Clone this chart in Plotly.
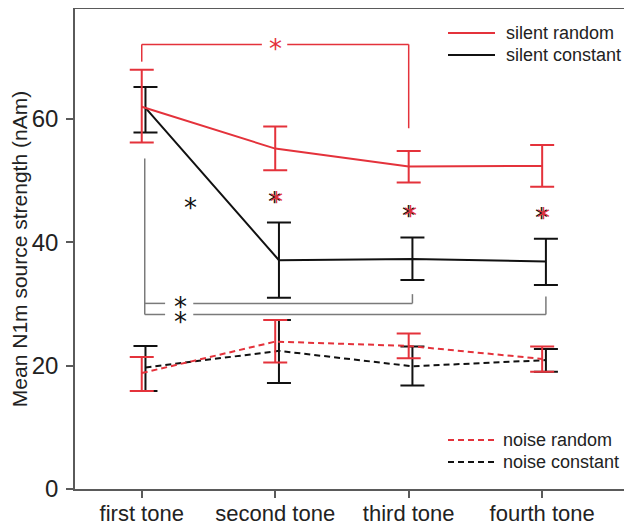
import plotly.graph_objects as go

# ---------------- data ----------------
categories = ["first tone", "second tone", "third tone", "fourth tone"]
tone_index = [1, 2, 3, 4]
y_tick_values = [0, 20, 40, 60]

silent_random_mean = [62.0, 55.2, 52.3, 52.4]
silent_random_upper = [68.0, 58.8, 54.8, 55.8]
silent_random_lower = [56.2, 51.7, 49.7, 49.0]

silent_constant_mean = [61.8, 37.1, 37.3, 36.9]
silent_constant_upper = [65.2, 43.2, 40.8, 40.6]
silent_constant_lower = [57.8, 31.0, 33.9, 33.1]

noise_random_mean = [18.8, 23.9, 23.2, 21.1]
noise_random_upper = [21.4, 27.4, 25.2, 23.1]
noise_random_lower = [15.9, 20.5, 21.2, 19.0]

noise_constant_mean = [19.7, 22.4, 19.9, 20.9]
noise_constant_upper = [23.2, 27.4, 23.1, 22.7]
noise_constant_lower = [15.9, 17.2, 16.8, 19.0]

# ---------------- style ----------------
RED = "#e4323b"
BLACK = "#111111"
GRAY = "#7a7a7a"
AXIS = "#5a5a5a"
FONT = "Liberation Sans, Arial, sans-serif"
STAR_FONT = "DejaVu Sans, sans-serif"
BLACK_OFFSET = 0.028  # black series drawn slightly right of red ones

# the page body has an 8px margin, so the figure is 8px smaller than the window
BODY = 8
W, H = 632 - BODY, 526 - BODY
ML, MR, MT, MB = 75 - BODY, 0, 9 - BODY, 37
PLOT_L, PLOT_T = 75, 9
PLOT_W, PLOT_H = 557, 480


def series(mean, upper, lower, color, dash, offset):
    return go.Scatter(
        x=[t + offset for t in tone_index],
        y=mean,
        mode="lines",
        line=dict(color=color, width=2, dash=dash),
        error_y=dict(
            type="data",
            symmetric=False,
            array=[u - m for u, m in zip(upper, mean)],
            arrayminus=[m - l for m, l in zip(mean, lower)],
            color=color,
            thickness=2,
            width=12,
        ),
        showlegend=False,
        hoverinfo="skip",
    )


fig = go.Figure()
fig.add_trace(series(noise_constant_mean, noise_constant_upper, noise_constant_lower, BLACK, "6px,4px", BLACK_OFFSET))
fig.add_trace(series(noise_random_mean, noise_random_upper, noise_random_lower, RED, "6px,4px", 0))
fig.add_trace(series(silent_constant_mean, silent_constant_upper, silent_constant_lower, BLACK, "solid", BLACK_OFFSET))
fig.add_trace(series(silent_random_mean, silent_random_upper, silent_random_lower, RED, "solid", 0))

shapes = []


def seg(x0, y0, x1, y1, color, width=1.5):
    shapes.append(dict(type="line", xref="x", yref="y", x0=x0, y0=y0, x1=x1, y1=y1,
                       line=dict(color=color, width=width)))


# red significance bracket (first vs third, silent random)
seg(1, 69.3, 1, 72.1, RED)
seg(1, 72.1, 1.90, 72.1, RED)
seg(2.09, 72.1, 3, 72.1, RED)
seg(3, 72.1, 3, 58.5, RED)

# gray brackets (first vs third / fourth, silent constant)
gx = 1 + BLACK_OFFSET * 0.8
seg(gx, 53.6, gx, 28.3, GRAY)
seg(gx, 30.1, 1.175, 30.1, GRAY)
seg(1.386, 30.1, 3 + BLACK_OFFSET, 30.1, GRAY)
seg(3 + BLACK_OFFSET, 30.1, 3 + BLACK_OFFSET, 31.6, GRAY)
seg(gx, 28.3, 1.175, 28.3, GRAY)
seg(1.386, 28.3, 4 + BLACK_OFFSET, 28.3, GRAY)
seg(4 + BLACK_OFFSET, 28.3, 4 + BLACK_OFFSET, 31.2, GRAY)


def px_x(p):
    return (p - PLOT_L) / PLOT_W


def px_y(p):
    return (PLOT_T + PLOT_H - p) / PLOT_H


# legends (drawn manually)
def legend_line(x0, x1, y, color, dash):
    shapes.append(dict(type="line", xref="paper", yref="paper",
                       x0=px_x(x0), x1=px_x(x1), y0=px_y(y), y1=px_y(y),
                       line=dict(color=color, width=2, dash=dash)))


legend_line(448, 495, 33, RED, "solid")
legend_line(448, 495, 55, BLACK, "solid")
legend_line(448, 497, 440, RED, "6px,4px")
legend_line(448, 497, 462, BLACK, "6px,4px")

annotations = []
for text, x, y in [("silent random", 504, 33), ("silent constant", 504, 55),
                   ("noise random", 501, 440), ("noise constant", 501, 462)]:
    annotations.append(dict(xref="paper", yref="paper", x=px_x(x), y=px_y(y),
                            text=text, showarrow=False, xanchor="left", yanchor="middle",
                            font=dict(family=FONT, size=18, color="#222222")))


def star(x, y, color, dx=0):
    annotations.append(dict(xref="x", yref="y", x=x, y=y, text="*", showarrow=False,
                            xanchor="center", yanchor="middle", xshift=dx, yshift=-5,
                            font=dict(family=STAR_FONT, size=26, color=color)))


star(2.0, 72.2, RED)
star(1.367, 46.3, BLACK)
for sx, sy in [(1.993, 47.4), (3.0, 45.1), (3.998, 44.7)]:
    star(sx, sy, BLACK)
    star(sx, sy, RED, dx=2)
star(1.287, 30.4, BLACK)
star(1.287, 27.9, BLACK)

fig.update_layout(
    width=W, height=H,
    margin=dict(l=ML, r=MR, t=MT, b=MB, pad=0),
    paper_bgcolor="white", plot_bgcolor="white",
    font=dict(family=FONT, color="#222222"),
    shapes=shapes,
    annotations=annotations,
    showlegend=False,
)
fig.update_xaxes(
    range=[0.5, 4.673], tickvals=tone_index, ticktext=categories,
    showgrid=False, zeroline=False, showline=True, linecolor=AXIS, linewidth=1.5,
    mirror=True, ticks="outside", ticklen=7, tickwidth=1.5, tickcolor=AXIS,
    tickfont=dict(family=FONT, size=22, color="#222222"), automargin=False,
    ticklabelstandoff=-3,
)
fig.update_yaxes(
    range=[0, 77.84], tickvals=y_tick_values,
    showgrid=False, zeroline=False, showline=True, linecolor=AXIS, linewidth=1.5,
    ticks="outside", ticklen=7, tickwidth=1.5, tickcolor=AXIS,
    tickfont=dict(family=FONT, size=24, color="#222222"), automargin=False,
    ticklabelstandoff=3,
    title=dict(text="Mean N1m source strength (nAm)", standoff=0,
               font=dict(family=FONT, size=21, color="#222222")),
)

fig.write_html("out.html")
